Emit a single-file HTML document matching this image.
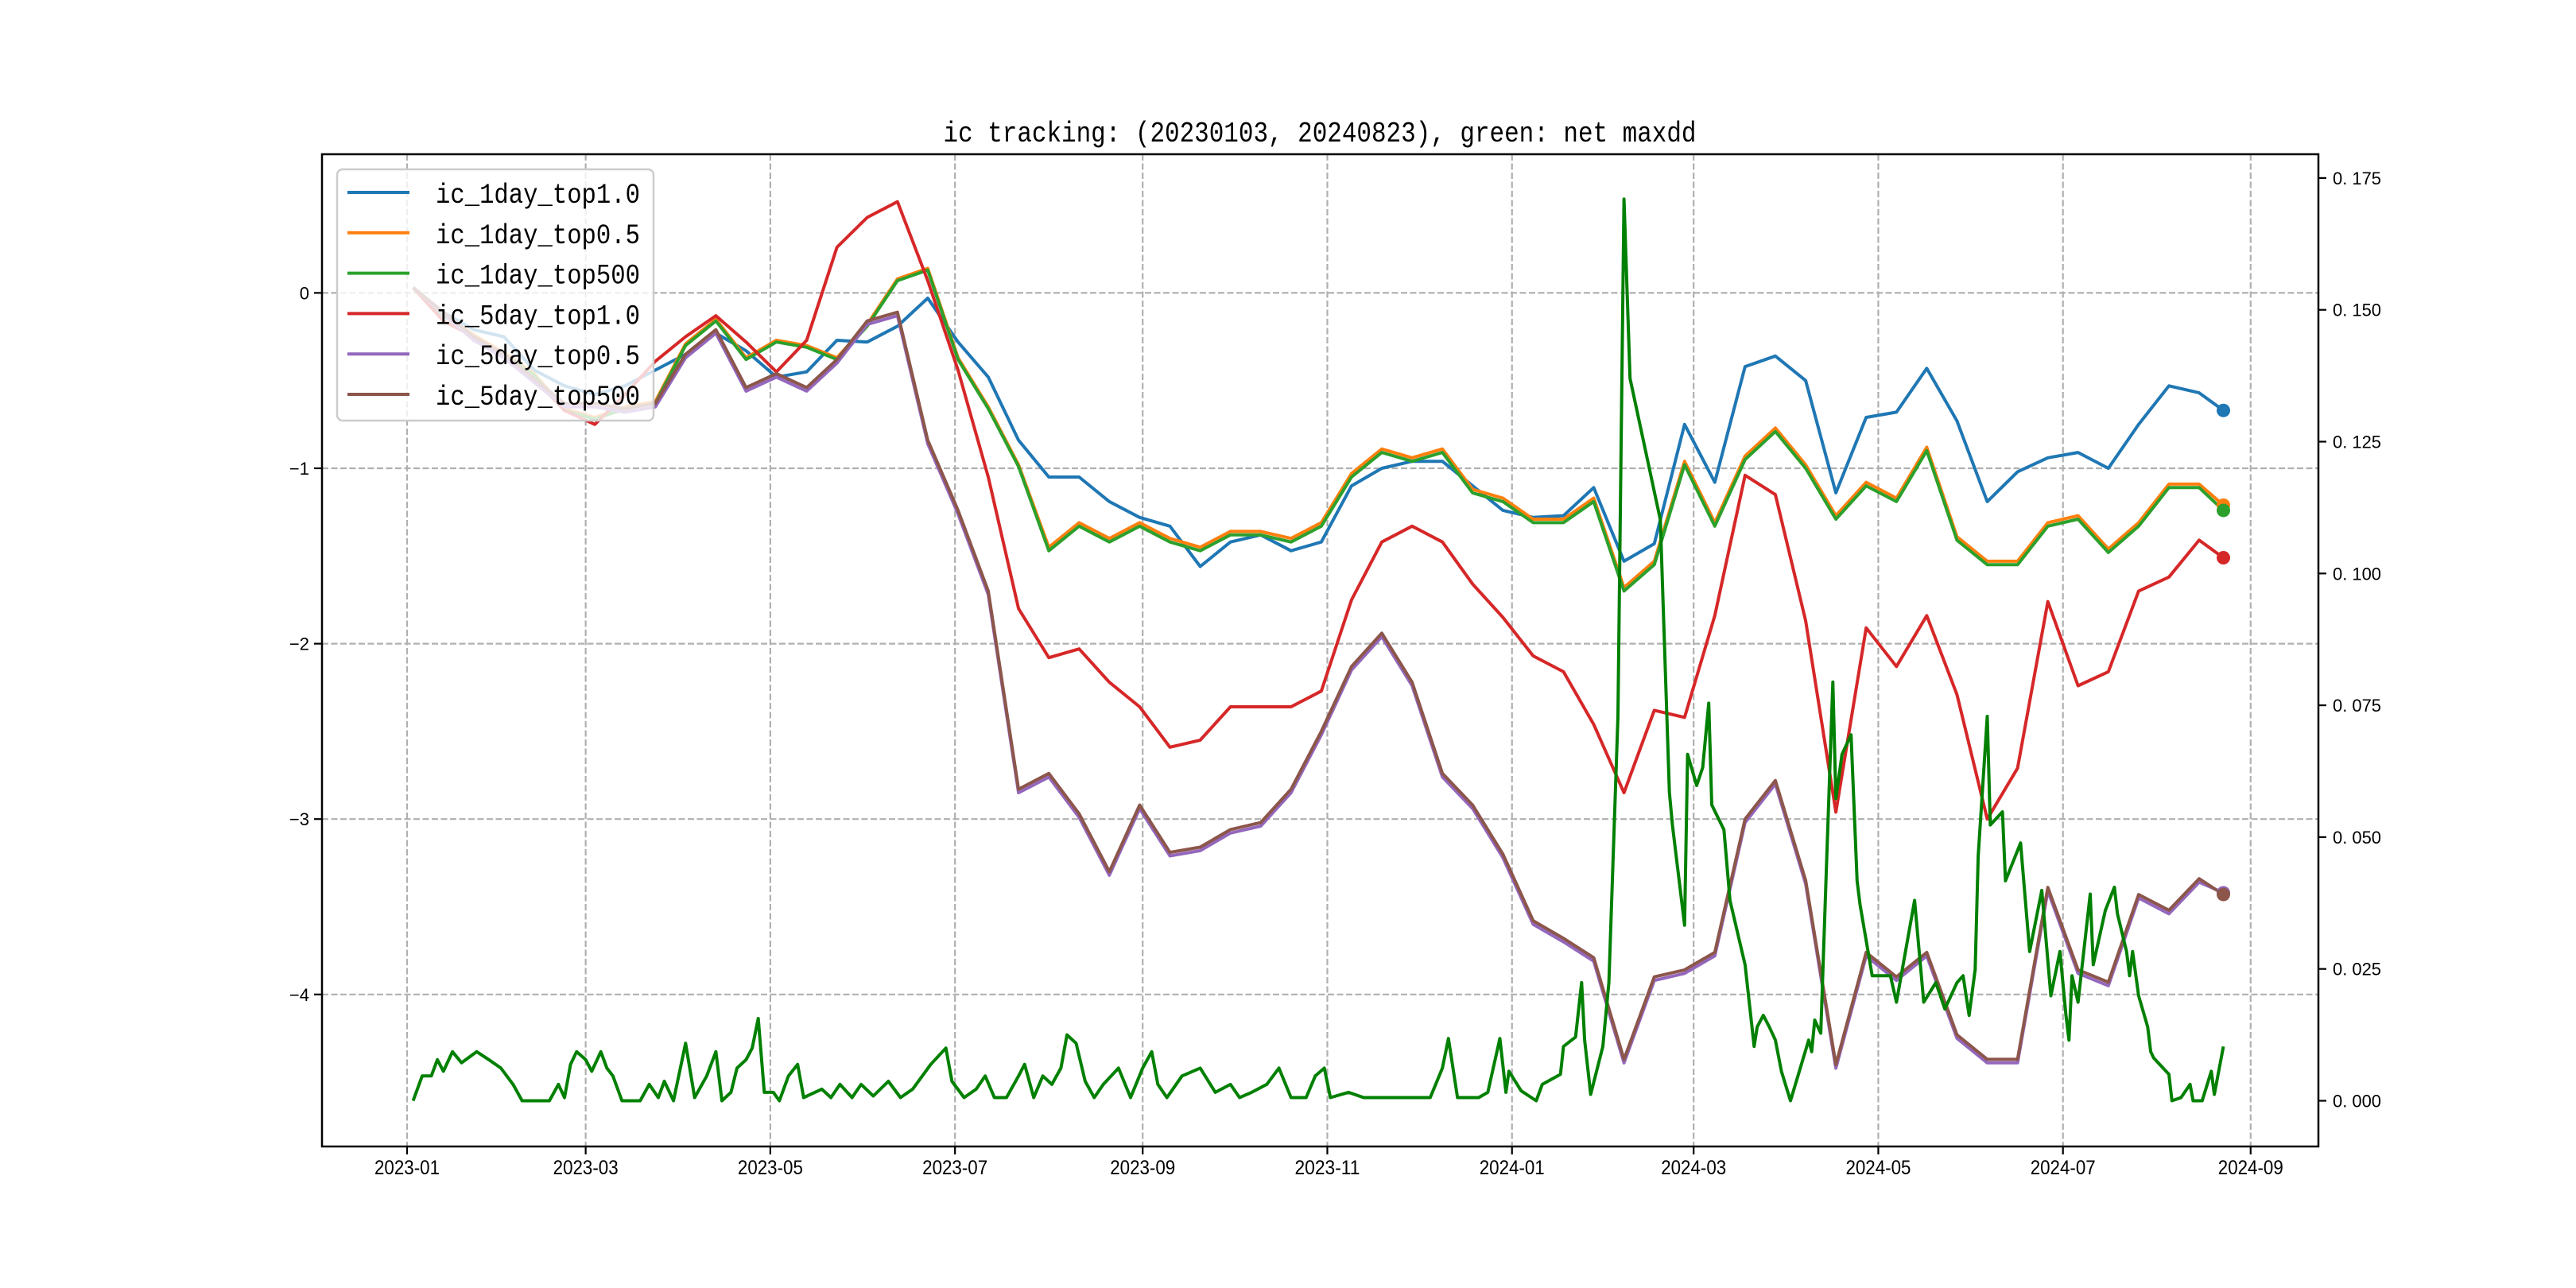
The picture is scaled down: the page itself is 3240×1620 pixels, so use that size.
<!DOCTYPE html>
<html><head><meta charset="utf-8"><title>ic tracking</title>
<style>html,body{margin:0;padding:0;background:#fff}svg{display:block}</style></head>
<body>
<svg id="chart" xmlns="http://www.w3.org/2000/svg" width="3240" height="1620" viewBox="0 0 3240 1620">
<rect width="3240" height="1620" fill="#fff"/>
<g id="grid"></g>
<g id="lines"></g>
<g id="axes"></g>
<text x="1660" y="178" text-anchor="middle" font-family="Liberation Mono, monospace" font-size="36" textLength="947" lengthAdjust="spacingAndGlyphs">ic tracking: (20230103, 20240823), green: net maxdd</text>
<g id="legend"></g>
</svg>
<script>
// days since 2023-01-01
const dayOffsets = [2,12,22,32,42,52,62,72,82,92,102,112,122,132,142,152,162,172,182,192,202,212,222,232,242,252,262,272,282,292,302,312,322,332,342,352,362,372,382,392,402,412,422,432,442,452,462,472,482,492,502,512,522,532,542,552,562,572,582,592,600];
const ic1dayTop10 = [0.03,-0.11,-0.21,-0.25,-0.44,-0.53,-0.58,-0.53,-0.44,-0.35,-0.23,-0.33,-0.48,-0.45,-0.27,-0.28,-0.19,-0.03,-0.28,-0.48,-0.84,-1.05,-1.05,-1.19,-1.28,-1.33,-1.56,-1.42,-1.38,-1.47,-1.42,-1.10,-1.00,-0.96,-0.96,-1.10,-1.24,-1.28,-1.27,-1.11,-1.53,-1.43,-0.75,-1.08,-0.42,-0.36,-0.50,-1.14,-0.71,-0.68,-0.43,-0.73,-1.19,-1.02,-0.94,-0.91,-1.00,-0.75,-0.53,-0.57,-0.67];
const ic1dayTop05 = [0.03,-0.12,-0.24,-0.34,-0.46,-0.66,-0.71,-0.65,-0.62,-0.29,-0.15,-0.37,-0.27,-0.30,-0.37,-0.18,0.08,0.14,-0.37,-0.65,-0.98,-1.45,-1.31,-1.40,-1.31,-1.40,-1.45,-1.36,-1.36,-1.40,-1.31,-1.03,-0.89,-0.94,-0.89,-1.12,-1.17,-1.29,-1.29,-1.17,-1.68,-1.53,-0.96,-1.31,-0.93,-0.77,-0.98,-1.27,-1.08,-1.17,-0.88,-1.39,-1.53,-1.53,-1.31,-1.27,-1.46,-1.31,-1.09,-1.09,-1.21];
const ic1dayTop500 = [0.03,-0.13,-0.25,-0.35,-0.47,-0.67,-0.72,-0.66,-0.63,-0.30,-0.16,-0.38,-0.28,-0.31,-0.38,-0.19,0.07,0.13,-0.38,-0.66,-0.99,-1.47,-1.33,-1.42,-1.33,-1.42,-1.47,-1.38,-1.38,-1.42,-1.33,-1.05,-0.91,-0.96,-0.91,-1.14,-1.19,-1.31,-1.31,-1.19,-1.70,-1.55,-0.98,-1.33,-0.95,-0.79,-1.00,-1.29,-1.10,-1.19,-0.90,-1.41,-1.55,-1.55,-1.33,-1.29,-1.48,-1.33,-1.11,-1.11,-1.24];
const ic5dayTop10 = [0.03,-0.16,-0.25,-0.35,-0.49,-0.67,-0.75,-0.58,-0.39,-0.25,-0.13,-0.28,-0.45,-0.27,0.26,0.43,0.52,0.07,-0.44,-1.05,-1.80,-2.08,-2.03,-2.22,-2.36,-2.59,-2.55,-2.36,-2.36,-2.36,-2.27,-1.75,-1.42,-1.33,-1.42,-1.66,-1.85,-2.07,-2.16,-2.46,-2.85,-2.38,-2.42,-1.84,-1.04,-1.15,-1.87,-2.96,-1.91,-2.13,-1.84,-2.29,-3.00,-2.71,-1.76,-2.24,-2.16,-1.70,-1.62,-1.41,-1.51];
const ic5dayTop05 = [0.03,-0.12,-0.27,-0.37,-0.51,-0.65,-0.65,-0.68,-0.65,-0.37,-0.23,-0.56,-0.48,-0.56,-0.40,-0.18,-0.13,-0.86,-1.26,-1.72,-2.85,-2.76,-2.99,-3.32,-2.94,-3.21,-3.18,-3.08,-3.04,-2.85,-2.52,-2.15,-1.96,-2.24,-2.76,-2.94,-3.22,-3.60,-3.70,-3.81,-4.39,-3.92,-3.88,-3.78,-3.02,-2.80,-3.37,-4.42,-3.78,-3.92,-3.78,-4.25,-4.39,-4.39,-3.41,-3.88,-3.95,-3.45,-3.54,-3.36,-3.42];
const ic5dayTop500 = [0.03,-0.11,-0.25,-0.35,-0.49,-0.63,-0.63,-0.66,-0.63,-0.35,-0.21,-0.54,-0.46,-0.54,-0.38,-0.16,-0.11,-0.84,-1.24,-1.70,-2.83,-2.74,-2.97,-3.30,-2.92,-3.19,-3.16,-3.06,-3.02,-2.83,-2.50,-2.13,-1.94,-2.22,-2.74,-2.92,-3.20,-3.58,-3.68,-3.79,-4.37,-3.90,-3.86,-3.76,-3.00,-2.78,-3.35,-4.40,-3.76,-3.90,-3.76,-4.23,-4.37,-4.37,-3.39,-3.86,-3.93,-3.43,-3.52,-3.34,-3.43];
// net maxdd (right axis)
const maxddDays = [2,5,8,10,12,15,18,23,27,31,35,38,47,50,52,54,56,59,61,64,66,68,71,77,80,83,85,88,92,95,99,102,104,107,109,112,114,116,118,121,123,126,129,131,137,140,143,147,150,154,159,163,167,173,178,180,184,188,191,194,198,202,204,207,210,213,216,218,221,224,227,230,235,239,243,246,248,251,256,262,267,272,275,279,284,288,292,297,300,303,305,311,316,327,338,342,344,347,354,357,361,363,364,368,373,375,381,382,386,388,389,391,395,397,400,402,404,414,417,418,422,423,426,428,430,431,435,437,442,445,446,448,450,452,454,457,463,464,465,467,469,471,472,474,477,479,480,484,490,492,498,501,505,508,512,514,516,518,519,522,523,527,528,533,536,540,543,546,548,549,550,552,556,557,561,564,565,568,569,570,572,575,576,577,582,583,586,589,590,593,596,597,600];
const maxddVals = [0,.0047,.0047,.0078,.0056,.0093,.0072,.0093,.0078,.0062,.0031,0,0,.0031,.0006,.0069,.0093,.0078,.0056,.0093,.0062,.0047,0,0,.0031,.0006,.0037,0,.0109,.0006,.0047,.0093,0,.0016,.0062,.0078,.0100,.0156,.0016,.0016,0,.0047,.0069,.0006,.0022,.0006,.0031,.0006,.0031,.0009,.0037,.0006,.0022,.0069,.0100,.0037,.0006,.0022,.0047,.0006,.0006,.0047,.0069,.0006,.0047,.0031,.0062,.0125,.0109,.0037,.0006,.0031,.0062,.0006,.0062,.0093,.0031,.0006,.0047,.0062,.0016,.0031,.0006,.0016,.0031,.0062,.0006,.0006,.0047,.0062,.0006,.0016,.0006,.0006,.0006,.0062,.0118,.0006,.0006,.0016,.0118,.0016,.0056,.0019,0,.0031,.0050,.0103,.0121,.0224,.0115,.0012,.0103,.0224,.0729,.1710,.1370,.1102,.0585,.0523,.0333,.0657,.0598,.0632,.0754,.0561,.0514,.0380,.0258,.0103,.0140,.0162,.0140,.0115,.0056,0,.0115,.0093,.0153,.0128,.0464,.0794,.0573,.0657,.0694,.0417,.0371,.0237,.0237,.0187,.0380,.0187,.0224,.0174,.0224,.0237,.0162,.0249,.0464,.0729,.0523,.0548,.0417,.0489,.0283,.0399,.0199,.0283,.0162,.0115,.0237,.0187,.0392,.0258,.0361,.0405,.0355,.0283,.0237,.0283,.0199,.0140,.0093,.0081,.0050,0,.0006,.0031,0,0,.0056,.0012,.0103];
const xTickLabels = ['2023-01','2023-03','2023-05','2023-07','2023-09','2023-11','2024-01','2024-03','2024-05','2024-07','2024-09'];
const xTickDays = [0,59,120,181,243,304,365,425,486,547,609];
const yLeftTicks = [0,-1,-2,-3,-4];
const yRightTicks = [0,0.025,0.05,0.075,0.1,0.125,0.15,0.175];
const seriesNames = ['ic_1day_top1.0','ic_1day_top0.5','ic_1day_top500','ic_5day_top1.0','ic_5day_top0.5','ic_5day_top500'];

const NS='http://www.w3.org/2000/svg';
const AX={l:405,r:2916,t:194,b:1442};
function xS(d){return 512+3.8075*d;}
function yL(v){return 368.4-220.6*v;}
function yR(v){return 1384.5-6632*v;}
function mk(tag,attrs,parent){const e=document.createElementNS(NS,tag);for(const k in attrs)e.setAttribute(k,attrs[k]);parent.appendChild(e);return e;}
const grid=document.getElementById('grid'),lines=document.getElementById('lines'),axes=document.getElementById('axes'),legend=document.getElementById('legend');

xTickDays.forEach((d,i)=>{
  const g=mk('line',{x1:xS(d),x2:xS(d),y1:AX.t,y2:AX.b,stroke:'#b0b0b0','stroke-width':2.2,'stroke-dasharray':'8 3.5'},grid);
  
  
  const t=mk('line',{x1:xS(d),x2:xS(d),y1:AX.b,y2:AX.b+10,stroke:'#000','stroke-width':2.2},axes);
  
  
  const lb=mk('text',{x:xS(d),y:1477,'text-anchor':'middle','font-family':'Liberation Sans, sans-serif','font-size':25,textLength:82,lengthAdjust:'spacingAndGlyphs'},axes);
  lb.textContent=xTickLabels[i];
  
  
});
yLeftTicks.forEach(v=>{
  const g=mk('line',{x1:AX.l,x2:AX.r,y1:yL(v),y2:yL(v),stroke:'#b0b0b0','stroke-width':2.2,'stroke-dasharray':'8 3.5'},grid);
  
  
  const t=mk('line',{x1:AX.l-10,x2:AX.l,y1:yL(v),y2:yL(v),stroke:'#000','stroke-width':2.2},axes);
  
  
  const lb=mk('text',{x:389,y:yL(v)+8,'text-anchor':'end','font-family':'Liberation Sans, sans-serif','font-size':22},axes);
  lb.textContent=v===0?'0':'\u2212'+Math.abs(v);
  
  
});
yRightTicks.forEach(v=>{
  const t=mk('line',{x1:AX.r,x2:AX.r+10,y1:yR(v),y2:yR(v),stroke:'#000','stroke-width':2.2},axes);
  
  
  const lb=mk('text',{x:2934,y:yR(v)+8,'font-family':'Liberation Sans, sans-serif','font-size':22,textLength:61,lengthAdjust:'spacingAndGlyphs'},axes);
  lb.textContent=v.toFixed(3).replace('.','. ');
  
  
});

function series(xs,vals,ys,color,name){
  let d='';xs.forEach((x,i)=>{d+=(i?'L':'M')+xS(x).toFixed(1)+' '+ys(vals[i]).toFixed(1);});
  const p=mk('path',{d:d,fill:'none',stroke:color,'stroke-width':4,'stroke-linejoin':'round'},lines);
  
  
}
function endDot(xs,vals,ys,color,name){
  const n=xs.length-1;
  const c=mk('circle',{cx:xS(xs[n]),cy:ys(vals[n]),r:8.5,fill:color},lines);
  
  
}
const colors=['#1f77b4','#ff7f0e','#2ca02c','#d62728','#9467bd','#8c564b'];
const data=[ic1dayTop10,ic1dayTop05,ic1dayTop500,ic5dayTop10,ic5dayTop05,ic5dayTop500];
data.forEach((vals,i)=>series(dayOffsets,vals,yL,colors[i],seriesNames[i]));
series(maxddDays,maxddVals,yR,'#008000','net-maxdd');
data.forEach((vals,i)=>endDot(dayOffsets,vals,yL,colors[i],seriesNames[i]));

const frame=mk('rect',{x:AX.l,y:AX.t,width:AX.r-AX.l,height:AX.b-AX.t,fill:'none',stroke:'#000','stroke-width':2.5},axes);



const box=mk('rect',{x:424,y:213,width:398,height:316,rx:7,fill:'#fff','fill-opacity':0.8,stroke:'#cccccc','stroke-width':2.5},legend);


seriesNames.forEach((nm,i)=>{
  const y=242+50.8*i;
  const ln=mk('line',{x1:437,x2:515,y1:y,y2:y,stroke:colors[i],'stroke-width':4},legend);
  
  
  const t=mk('text',{x:548,y:y+13,'font-family':'Liberation Mono, monospace','font-size':35,textLength:257,lengthAdjust:'spacingAndGlyphs'},legend);
  t.textContent=nm;
  
  
});
</script>
</body></html>
